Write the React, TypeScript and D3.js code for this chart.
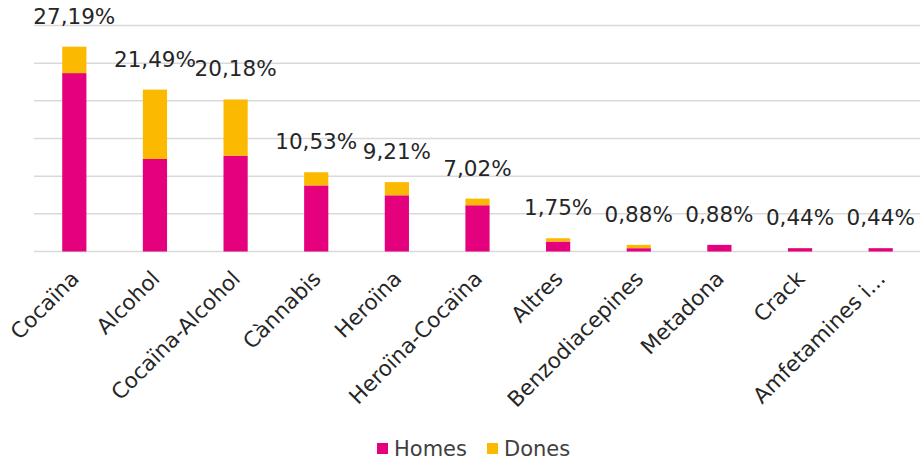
import React, { useEffect, useRef } from "react";
import * as d3 from "d3";

const categories = [
	"Cocaïna",
	"Alcohol",
	"Cocaïna-Alcohol",
	"Cànnabis",
	"Heroïna",
	"Heroïna-Cocaïna",
	"Altres",
	"Benzodiacepines",
	"Metadona",
	"Crack",
	"Amfetamines i...",
];
const homes = [23.68, 12.28, 12.72, 8.77, 7.46, 6.14, 1.32, 0.44, 0.88, 0.44, 0.44];
const dones = [3.51, 9.21, 7.46, 1.75, 1.75, 0.88, 0.44, 0.44, 0, 0, 0];
const totalLabels = [
	"27,19%",
	"21,49%",
	"20,18%",
	"10,53%",
	"9,21%",
	"7,02%",
	"1,75%",
	"0,88%",
	"0,88%",
	"0,44%",
	"0,44%",
];
const yTicks = [0, 5, 10, 15, 20, 25, 30];

const HOMES_COLOR = "#e5007d";
const DONES_COLOR = "#fbb900";
const FONT = "Verdana, 'DejaVu Sans', sans-serif";

export default function App() {
	const svgRef = useRef<SVGSVGElement | any>();

	useEffect(() => {
		const svg = d3.select(svgRef.current);
		svg.selectAll("*").remove();

		const x = d3
			.scaleBand<string>()
			.domain(categories)
			.range([34, 921])
			.paddingInner(0.7)
			.paddingOuter(0.35);
		const y = d3.scaleLinear().domain([0, 30]).range([251.5, 25.5]);

		// gridlines
		svg
			.append("g")
			.selectAll("line")
			.data(yTicks)
			.join("line")
			.attr("x1", 34)
			.attr("x2", 920)
			.attr("y1", (d) => y(d))
			.attr("y2", (d) => y(d))
			.attr("stroke", "#d9d9d9")
			.attr("stroke-width", 1.5);

		const rows = categories.map((c, i) => ({ cat: c, homes: homes[i], dones: dones[i] }));
		const stack = d3.stack<any>().keys(["homes", "dones"])(rows);
		const colors: any = { homes: HOMES_COLOR, dones: DONES_COLOR };

		svg
			.append("g")
			.selectAll("g")
			.data(stack)
			.join("g")
			.attr("fill", (s: any) => colors[s.key])
			.selectAll("rect")
			.data((s: any) => s)
			.join("rect")
			.attr("x", (d: any) => x(d.data.cat)!)
			.attr("width", x.bandwidth())
			.attr("y", (d: any) => y(d[1]))
			.attr("height", (d: any) => y(d[0]) - y(d[1]));

		// total labels
		svg
			.append("g")
			.selectAll("text")
			.data(rows)
			.join("text")
			.attr("x", (d) => x(d.cat)! + x.bandwidth() / 2)
			.attr("y", (d) => y(d.homes + d.dones) - 23)
			.attr("text-anchor", "middle")
			.attr("font-family", FONT)
			.attr("font-size", 21.5)
			.attr("fill", "#262626")
			.text((d, i) => totalLabels[i]);

		// category labels
		svg
			.append("g")
			.selectAll("text")
			.data(categories)
			.join("text")
			.attr(
				"transform",
				(d) => `translate(${x(d)! + x.bandwidth() / 2 + 6},280) rotate(-45)`
			)
			.attr("text-anchor", "end")
			.attr("font-family", FONT)
			.attr("font-size", 21.5)
			.attr("fill", "#262626")
			.text((d) => d);

		// legend
		const legend = [
			{ name: "Homes", color: HOMES_COLOR, x: 377 },
			{ name: "Dones", color: DONES_COLOR, x: 487 },
		];
		const lg = svg
			.append("g")
			.selectAll("g")
			.data(legend)
			.join("g")
			.attr("transform", (d) => `translate(${d.x},0)`);
		lg.append("rect")
			.attr("y", 443)
			.attr("width", 11)
			.attr("height", 11)
			.attr("fill", (d) => d.color);
		lg.append("text")
			.attr("x", 17)
			.attr("y", 456)
			.attr("font-family", FONT)
			.attr("font-size", 21)
			.attr("fill", "#404040")
			.text((d) => d.name);
	}, []);

	return (
		<svg
			ref={svgRef}
			width={920}
			height={461}
			style={{ position: "absolute", left: 0, top: 0, background: "#fff" }}
		/>
	);
}
